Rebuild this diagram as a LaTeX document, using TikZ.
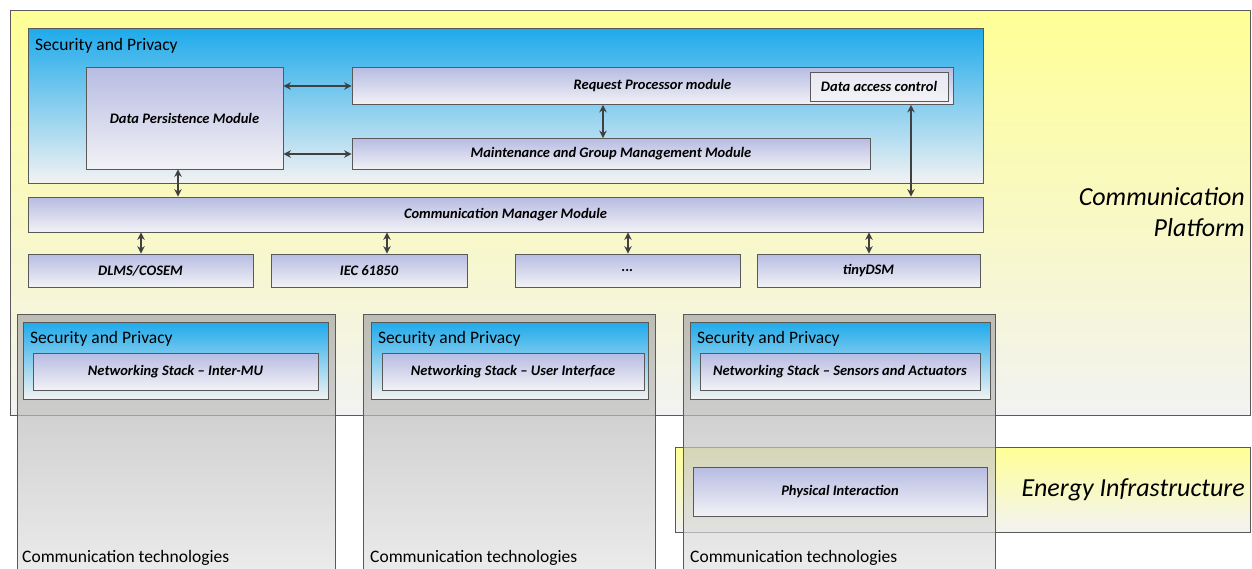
\documentclass[tikz,border=0pt]{standalone}
\usepackage{fontspec}
\setmainfont{Carlito}
\usetikzlibrary{positioning}
\usetikzlibrary{arrows.meta}
\definecolor{platformYellow}{RGB}{255,255,150}
\definecolor{secBlue}{RGB}{30,170,235}
\definecolor{modLilac}{RGB}{183,188,226}
\definecolor{modPale}{RGB}{242,242,246}
\definecolor{edgeGray}{RGB}{64,64,64}

\begin{document}
\begin{tikzpicture}[x=1pt,y=-1pt]

          \tikzstyle{areaNode} = [draw=gray!70!black, line width=0.8pt, top color=platformYellow, bottom color=gray!10, inner sep=0pt];
          \tikzstyle{secNode} = [draw=gray!70!black, line width=0.8pt, top color=secBlue, bottom color=gray!10, inner sep=0pt];
          \tikzstyle{modNode} = [draw=gray!70!black, line width=0.8pt, top color=modLilac, bottom color=modPale, font=\fontsize{14.5}{17}\selectfont\bfseries\itshape];
          \tikzstyle{colNode} = [draw=gray!70!black, line width=0.8pt, top color=gray!70, bottom color=gray!20, fill opacity=0.7, draw opacity=1];
          \tikzstyle{labelNode} = [font=\fontsize{17.5}{20}\selectfont, inner sep=0pt];
          \tikzstyle{bigLabel} = [font=\fontsize{26}{31}\selectfont\itshape, align=right, inner sep=0pt];

          \tikzstyle{normalEdge} = [edgeGray, line width=1.6pt, {Stealth[length=7.5pt,width=7.5pt]}-{Stealth[length=7.5pt,width=7.5pt]}];

          \useasboundingbox (0,0) rectangle (1252,568);

          \node[areaNode, minimum width=1240, minimum height=405] (platform) at (630,212.5) {};
          \node[areaNode, minimum width=575, minimum height=85] (energy) at (962.5,489.5) {};
          \node[bigLabel, anchor=east] (platformText) at (1245,212) {Communication\\Platform};
          \node[bigLabel, anchor=east] (energyText) at (1245,490) {Energy Infrastructure};

          \node[secNode, minimum width=955, minimum height=155] (secTop) at (505.5,105.5) {};
          \node[labelNode, anchor=west] (secTopText) at (35,46) {Security and Privacy};

          \node[modNode, minimum width=197, minimum height=102] (dpm) at (184.5,118) {Data Persistence Module};
          \node[modNode, minimum width=601, minimum height=37] (rpm) at (652.5,86) {Request Processor module};
          \node[modNode, minimum width=138, minimum height=29, top color=modPale!80!modLilac] (dac) at (879,86.5) {Data access control};
          \node[modNode, minimum width=518, minimum height=31] (maint) at (611,154) {Maintenance and Group Management Module};
          \node[modNode, minimum width=955, minimum height=35] (cmm) at (505.5,214.5) {Communication Manager Module};

          \node[modNode, minimum width=225, minimum height=33] (dlms) at (140.5,270.5) {DLMS/COSEM};
          \node[modNode, minimum width=196, minimum height=33] (iec) at (369,270.5) {IEC 61850};
          \node[modNode, minimum width=225, minimum height=33] (dots) at (627.5,270.5) {...};
          \node[modNode, minimum width=223, minimum height=33] (tiny) at (868.5,270.5) {tinyDSM};

          \node[colNode, minimum width=318, minimum height=270] (colA) at (176,449) {};
          \node[colNode, minimum width=292, minimum height=270] (colB) at (509,449) {};
          \node[colNode, minimum width=312, minimum height=270] (colC) at (839,449) {};

          \node[secNode, minimum width=305, minimum height=77] (secA) at (175.5,360.5) {};
          \node[secNode, minimum width=277, minimum height=77] (secB) at (509.5,360.5) {};
          \node[secNode, minimum width=300, minimum height=77] (secC) at (840,360.5) {};
          \node[labelNode, anchor=west] (secAText) at (30,339) {Security and Privacy};
          \node[labelNode, anchor=west] (secBText) at (378,339) {Security and Privacy};
          \node[labelNode, anchor=west] (secCText) at (697,339) {Security and Privacy};

          \node[modNode, minimum width=285, minimum height=37] (netA) at (175.5,371.5) {Networking Stack -- Inter-MU};
          \node[modNode, minimum width=262, minimum height=37] (netB) at (513,371.5) {Networking Stack -- User Interface};
          \node[modNode, minimum width=280, minimum height=37] (netC) at (840,371.5) {Networking Stack -- Sensors and Actuators};
          \node[modNode, minimum width=294, minimum height=49] (phys) at (840,491.5) {Physical Interaction};

          \node[labelNode, anchor=west] (techA) at (22,558) {Communication technologies};
          \node[labelNode, anchor=west] (techB) at (370,558) {Communication technologies};
          \node[labelNode, anchor=west] (techC) at (690,558) {Communication technologies};

          \draw[normalEdge] ([xshift=-6.5pt]dpm.south) -- ([xshift=-6.5pt]dpm.south |- cmm.north);
          \draw[normalEdge] (dpm.east |- rpm) -- (rpm.west);
          \draw[normalEdge] (dpm.east |- maint) -- (maint.west);
          \draw[normalEdge] ([xshift=-8pt]maint.north) -- ([xshift=-8pt]maint.north |- rpm.south);
          \draw[normalEdge] ([xshift=32pt]dac.south |- rpm.south) -- ([xshift=32pt]dac.south |- cmm.north);
          \draw[normalEdge] ([xshift=0.5pt]dlms.north) -- ([xshift=0.5pt]dlms.north |- cmm.south);
          \draw[normalEdge] ([xshift=18pt]iec.north) -- ([xshift=18pt]iec.north |- cmm.south);
          \draw[normalEdge] ([xshift=0.5pt]dots.north) -- ([xshift=0.5pt]dots.north |- cmm.south);
          \draw[normalEdge] ([xshift=0.5pt]tiny.north) -- ([xshift=0.5pt]tiny.north |- cmm.south);
        \end{tikzpicture}
\end{document}
